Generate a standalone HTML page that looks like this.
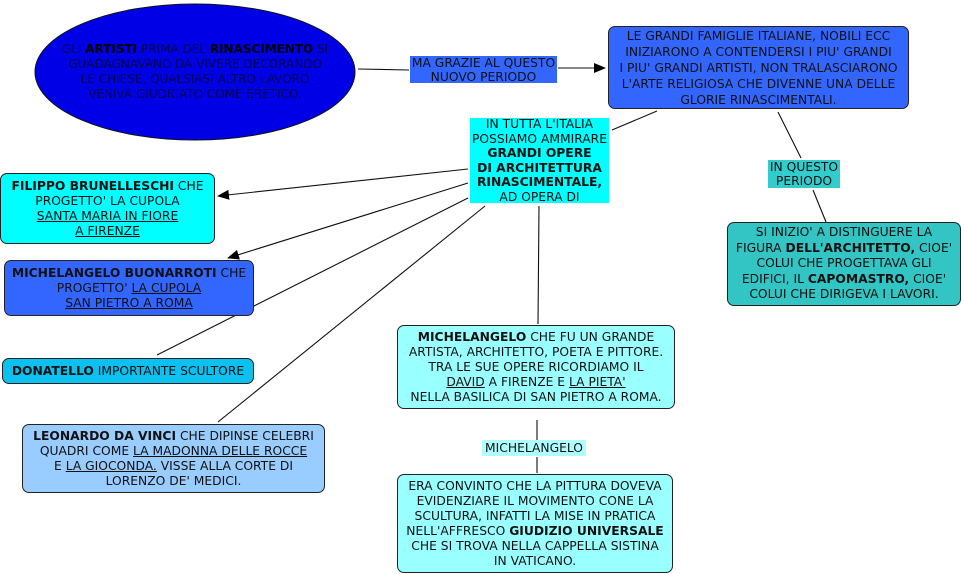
<!DOCTYPE html>
<html><head><meta charset="utf-8"><style>
body{margin:0;width:964px;height:574px;background:#fff;position:relative;overflow:hidden;font-family:"DejaVu Sans",Verdana,sans-serif;font-size:12.3px;color:#111}
.b{position:absolute;box-sizing:border-box;text-align:center;line-height:15px;display:flex;justify-content:center;align-items:center;white-space:nowrap}
.b>div{display:block}
.r{border:1px solid #222;border-radius:7px}
u{text-decoration:underline}
svg{position:absolute;left:0;top:0}
</style></head><body>
<svg width="964" height="574">
<defs><marker id="a" markerWidth="12" markerHeight="10" refX="11" refY="5" orient="auto" markerUnits="userSpaceOnUse"><path d="M0,0L12,5L0,10z" fill="#000"/></marker></defs>
<ellipse cx="195" cy="72" rx="160" ry="68" fill="#0000e6" stroke="#111" stroke-width="1"/>
<g stroke="#111" stroke-width="1.1" fill="none">
<line x1="358" y1="69" x2="409" y2="70"/>
<line x1="558" y1="68" x2="605" y2="68" marker-end="url(#a)"/>
<line x1="612" y1="130" x2="657" y2="111"/>
<line x1="778" y1="112" x2="801" y2="158"/>
<line x1="813" y1="190" x2="826" y2="222"/>
<line x1="468" y1="169" x2="218" y2="196" marker-end="url(#a)"/>
<line x1="468" y1="183" x2="228" y2="258" marker-end="url(#a)"/>
<line x1="468" y1="198" x2="157" y2="355"/>
<line x1="485" y1="206" x2="218" y2="422"/>
<line x1="539" y1="206" x2="538" y2="324"/>
<line x1="537" y1="420" x2="537" y2="440"/>
<line x1="537" y1="457" x2="537" y2="473"/>
</g>
</svg>
<div class="b" style="left:45px;top:40px;width:300px;height:64px;color:#05054a;font-size:12px"><div>GLI <b style="color:#000">ARTISTI</b> PRIMA DEL <b style="color:#000">RINASCIMENTO</b> SI<br>GUADAGNAVANO DA VIVERE DECORANDO<br>LE CHIESE, QUALSIASI ALTRO LAVORO<br>VENIVA GIUDICATO COME ERETICO.</div></div>
<div class="b" style="left:410px;top:56px;width:147px;height:27px;background:#3366ff;line-height:14px"><div>MA GRAZIE AL QUESTO<br>NUOVO PERIODO</div></div>
<div class="b r" style="left:608px;top:26px;width:301px;height:83px;background:#3366ff;line-height:16px"><div>LE GRANDI FAMIGLIE ITALIANE, NOBILI ECC<br>INIZIARONO A CONTENDERSI I PIU' GRANDI<br>I PIU' GRANDI ARTISTI, NON TRALASCIARONO<br>L'ARTE RELIGIOSA CHE DIVENNE UNA DELLE<br>GLORIE RINASCIMENTALI.</div></div>
<div class="b" style="left:470px;top:118px;width:139px;height:85px;background:#00ffff;line-height:14.5px"><div>IN TUTTA L'ITALIA<br>POSSIAMO AMMIRARE<br><b>GRANDI OPERE<br>DI ARCHITETTURA<br>RINASCIMENTALE,</b><br>AD OPERA DI</div></div>
<div class="b" style="left:768px;top:160px;width:72px;height:28px;background:#33cccc;line-height:14px"><div>IN QUESTO<br>PERIODO</div></div>
<div class="b r" style="left:727px;top:222px;width:234px;height:84px;background:#33c4c4;line-height:15.5px"><div>SI INIZIO' A DISTINGUERE LA<br>FIGURA <b>DELL'ARCHITETTO,</b> CIOE'<br>COLUI CHE PROGETTAVA GLI<br>EDIFICI, IL <b>CAPOMASTRO,</b> CIOE'<br>COLUI CHE DIRIGEVA I LAVORI.</div></div>
<div class="b r" style="left:0px;top:173px;width:215px;height:71px;background:#00ffff"><div><b>FILIPPO BRUNELLESCHI</b> CHE<br>PROGETTO' LA CUPOLA<br><u>SANTA MARIA IN FIORE</u><br><u>A FIRENZE</u></div></div>
<div class="b r" style="left:4px;top:260px;width:250px;height:56px;background:#3366ff"><div><b>MICHELANGELO BUONARROTI</b> CHE<br>PROGETTO' <u>LA CUPOLA</u><br><u>SAN PIETRO A ROMA</u></div></div>
<div class="b r" style="left:2px;top:358px;width:252px;height:26px;background:#0cc0f0"><div><b>DONATELLO</b> IMPORTANTE SCULTORE</div></div>
<div class="b r" style="left:22px;top:424px;width:303px;height:69px;background:#99ccff"><div><b>LEONARDO DA VINCI</b> CHE DIPINSE CELEBRI<br>QUADRI COME <u>LA MADONNA DELLE ROCCE</u><br>E <u>LA GIOCONDA.</u> VISSE ALLA CORTE DI<br>LORENZO DE' MEDICI.</div></div>
<div class="b r" style="left:397px;top:325px;width:278px;height:84px;background:#99ffff"><div><b>MICHELANGELO</b> CHE FU UN GRANDE<br>ARTISTA, ARCHITETTO, POETA E PITTORE.<br>TRA LE SUE OPERE RICORDIAMO IL<br><u>DAVID</u> A FIRENZE E <u>LA PIETA'</u><br>NELLA BASILICA DI SAN PIETRO A ROMA.</div></div>
<div class="b" style="left:482px;top:440px;width:104px;height:16px;background:#b0ffff"><div>MICHELANGELO</div></div>
<div class="b r" style="left:397px;top:474px;width:276px;height:99px;background:#99ffff"><div>ERA CONVINTO CHE LA PITTURA DOVEVA<br>EVIDENZIARE IL MOVIMENTO CONE LA<br>SCULTURA, INFATTI LA MISE IN PRATICA<br>NELL'AFFRESCO <b>GIUDIZIO UNIVERSALE</b><br>CHE SI TROVA NELLA CAPPELLA SISTINA<br>IN VATICANO.</div></div>
</body></html>
